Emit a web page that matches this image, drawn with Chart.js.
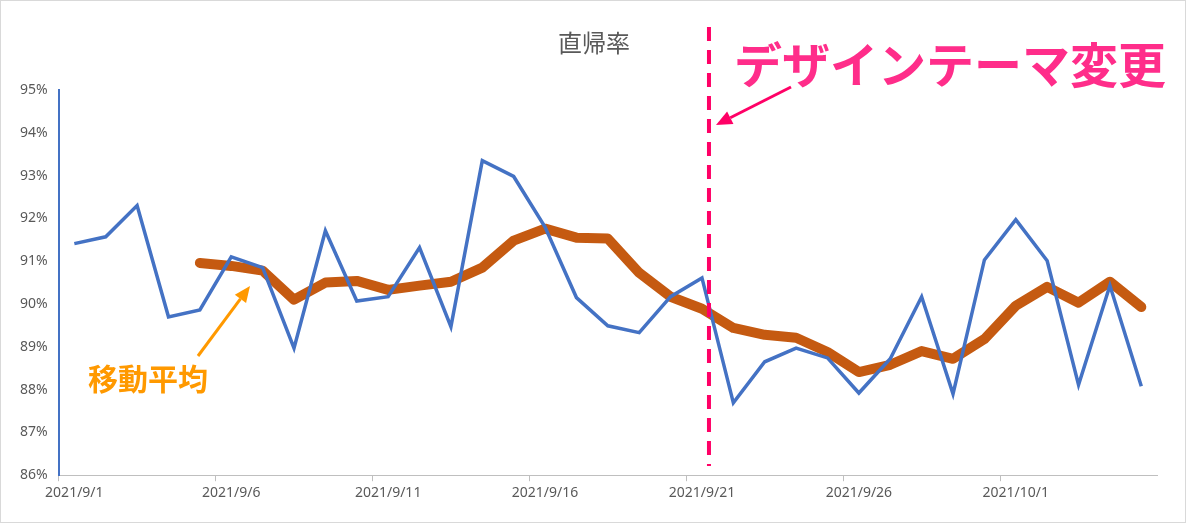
<!DOCTYPE html>
<html><head><meta charset="utf-8">
<script src="https://cdn.jsdelivr.net/npm/chart.js@4"></script>
<style>
html,body{margin:0;padding:0;background:#fff;}
#wrap{position:absolute;left:0;top:0;width:1184px;height:521px;border:1px solid #d9d9d9;}
canvas{display:block;}
</style></head><body>
<div id="wrap"><canvas id="c" width="1184" height="521"></canvas></div>
<script>
const categories = ["2021/9/1","2021/9/2","2021/9/3","2021/9/4","2021/9/5","2021/9/6","2021/9/7","2021/9/8","2021/9/9","2021/9/10","2021/9/11","2021/9/12","2021/9/13","2021/9/14","2021/9/15","2021/9/16","2021/9/17","2021/9/18","2021/9/19","2021/9/20","2021/9/21","2021/9/22","2021/9/23","2021/9/24","2021/9/25","2021/9/26","2021/9/27","2021/9/28","2021/9/29","2021/9/30","2021/10/1","2021/10/2","2021/10/3","2021/10/4","2021/10/5"];
const bounceRate = [91.41,91.57,92.3,89.7,89.86,91.1,90.85,88.97,91.71,90.07,90.17,91.32,89.47,93.35,92.98,91.8,90.15,89.49,89.33,90.17,90.61,87.69,88.65,88.97,88.74,87.92,88.72,90.17,87.9,91.03,91.97,91.01,88.11,90.43,88.08];
const movingAvg = [null,null,null,null,90.96,90.89,90.78,90.1,90.5,90.54,90.33,90.43,90.52,90.85,91.48,91.76,91.55,91.53,90.73,90.17,89.89,89.44,89.28,89.21,88.88,88.41,88.58,88.9,88.72,89.18,89.96,90.4,90.03,90.52,89.93];
const yTicks = [86,87,88,89,90,91,92,93,94,95];
const title = "直帰率";
const changeLabel = "デザインテーマ変更";
const avgLabel = "移動平均";
const changeIndex = 20;

const overlay = {
  id:'overlay',
  afterDatasetsDraw(chart){
    const c=chart.ctx, x=chart.scales.x;
    const px=x.getPixelForValue(changeIndex)+7;
    c.save();
    c.strokeStyle='#ff0066'; c.lineWidth=4; c.setLineDash([14,9]);
    c.beginPath(); c.moveTo(px,26); c.lineTo(px,465); c.stroke();
    c.setLineDash([]);
    drawArrow(c,790,86,715,124,'#ff0066',3);
    c.fillStyle='#ff2d8a'; c.font='bold 48px "Noto Sans CJK JP"'; c.textBaseline='middle'; c.textAlign='left';
    c.fillText(changeLabel,733,64);
    drawArrow(c,197,355,249,285,'#ff9900',3);
    c.fillStyle='#ff9900'; c.font='bold 30px "Noto Sans CJK JP"';
    c.fillText(avgLabel,87,378);
    c.fillStyle='#595959'; c.font='24px "Noto Sans CJK JP"'; c.textAlign='center';
    c.fillText(title,593,42);
    c.restore();
  }
};
function drawArrow(c,x1,y1,x2,y2,col,w){
  c.strokeStyle=col; c.fillStyle=col; c.lineWidth=w;
  const a=Math.atan2(y2-y1,x2-x1), L=16;
  const bx=x2-L*Math.cos(a), by=y2-L*Math.sin(a);
  c.beginPath(); c.moveTo(x1,y1); c.lineTo(bx,by); c.stroke();
  c.beginPath(); c.moveTo(x2,y2);
  c.lineTo(bx+7*Math.sin(a),by-7*Math.cos(a));
  c.lineTo(bx-7*Math.sin(a),by+7*Math.cos(a)); c.closePath(); c.fill();
}

new Chart(document.getElementById('c'),{
  type:'line',
  data:{labels:categories,datasets:[
    {data:bounceRate,borderColor:'#4472c4',borderWidth:3.5,pointRadius:0,tension:0},
    {data:movingAvg,borderColor:'#c55a11',borderWidth:10,pointRadius:0,tension:0,borderJoinStyle:'round',borderCapStyle:'round'}
  ]},
  options:{
    responsive:false,animation:false,
    layout:{padding:{left:16,right:28,top:89,bottom:18}},
    plugins:{legend:{display:false},tooltip:{enabled:false}},
    scales:{
      x:{offset:true,
        grid:{offset:true,drawOnChartArea:false,drawTicks:true,tickLength:6,
          color:(ctx)=>ctx.index%5===0?'#bfbfbf':'rgba(0,0,0,0)'},
        border:{color:'#bfbfbf',width:1},
        ticks:{autoSkip:false,maxRotation:0,color:'#595959',font:{size:14,family:'"Noto Sans"'},
          callback:(v,i)=>i%5===0?categories[i]:''}},
      y:{min:yTicks[0],max:yTicks[yTicks.length-1],
        afterBuildTicks:(s)=>{s.ticks=yTicks.map(v=>({value:v}));},
        grid:{display:false},border:{color:'#4472c4',width:2},
        ticks:{color:'#595959',font:{size:14,family:'"Noto Sans"'},callback:v=>v+'%'}}
    }
  },
  plugins:[overlay]
});
</script></body></html>
